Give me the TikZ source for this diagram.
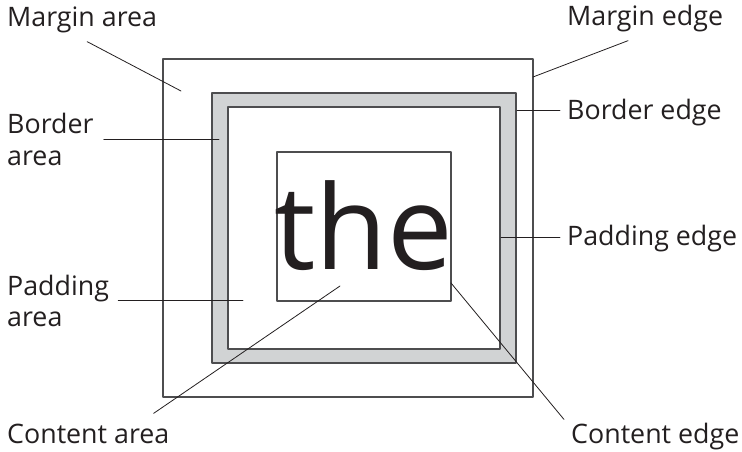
\documentclass[tikz,border=0pt]{standalone}
\usepackage{fontspec}
\setmainfont{Open Sans}
\definecolor{boxline}{HTML}{4D4D4F}
\definecolor{borderfill}{HTML}{D1D3D4}
\definecolor{ink}{HTML}{231F20}
\tikzset{
  lbl/.style={inner sep=0pt,text=ink,align=left,font=\fontsize{26.8}{31.5}\selectfont},
  boxedge/.style={draw=boxline,line width=1.3pt},
  leader/.style={draw=ink,line width=0.8pt}
}
\begin{document}
\begin{tikzpicture}[x=1pt,y=1pt,line cap=round,line join=round]
  \useasboundingbox (0,0) rectangle (742,451);
  % boxes
  \draw[boxedge] (163,54) rectangle (533,392);
  \draw[boxedge,fill=borderfill] (212,88) rectangle (516,358);
  \draw[boxedge,fill=white] (228,102) rectangle (500,344);
  \draw[boxedge] (277,150) rectangle (451,299);
  \node[inner sep=0pt,text=ink,font=\fontsize{117}{117}\selectfont,anchor=base] (word) at (364,182) {the};
  % points that the labels point at
  \coordinate (mareapt) at (181,360);
  \coordinate (medgept) at (533,374);
  \coordinate (bareapt) at (219,312);
  \coordinate (bedgept) at (517,341);
  \coordinate (pedgept) at (501,214);
  \coordinate (pareapt) at (243,151);
  \coordinate (careapt) at (340,165);
  \coordinate (cedgept) at (451,168);
  % labels
  \node[lbl,anchor=base west] (marea) at (7,424) {Margin area};
  \node[lbl,anchor=base west] (medge) at (567,425) {Margin edge};
  \node[lbl,anchor=west] (barea) at (7,311.5) {Border\\area};
  \node[lbl,anchor=base west] (bedge) at (567,332) {Border edge};
  \node[lbl,anchor=base west] (pedge) at (567,206) {Padding edge};
  \node[lbl,anchor=west] (parea) at (7,150) {Padding\\area};
  \node[lbl,anchor=base west] (carea) at (7,8) {Content area};
  \node[lbl,anchor=base west] (cedge) at (571,8) {Content edge};
  % leaders
  \draw[leader] ([shift={(5pt,-8pt)}]marea.south) -- (mareapt);
  \draw[leader] ([shift={(-17pt,-8pt)}]medge.south) -- (medgept);
  \draw[leader] ([xshift=10pt]barea.east |- bareapt) -- (bareapt);
  \draw[leader] ([xshift=-7pt]bedge.west |- bedgept) -- (bedgept);
  \draw[leader] ([xshift=-7pt]pedge.west |- pedgept) -- (pedgept);
  \draw[leader] ([xshift=9pt]parea.east |- pareapt) -- (pareapt);
  \draw[leader] ([xshift=-16pt,yshift=10pt]carea.north east) -- (careapt);
  \draw[leader] ([shift={(-7pt,3pt)}]cedge.north west) -- (cedgept);
\end{tikzpicture}
\end{document}
